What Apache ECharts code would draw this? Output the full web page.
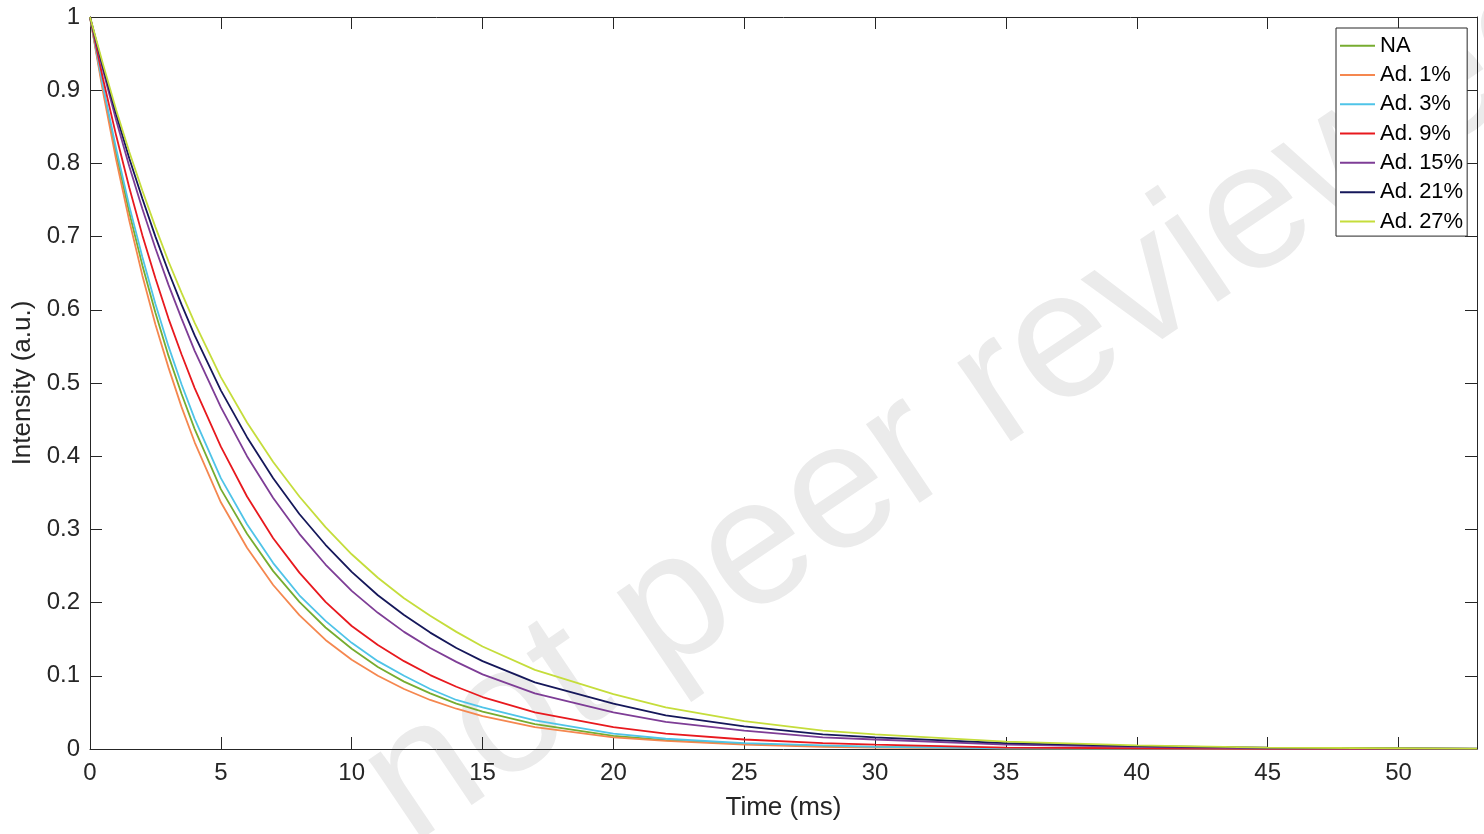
<!DOCTYPE html>
<html>
<head>
<meta charset="utf-8">
<script src="https://cdn.jsdelivr.net/npm/echarts@6/dist/echarts.min.js"></script>
<style>
html,body{margin:0;padding:0;background:#fff;}
#chart{width:1484px;height:834px;}
</style>
</head>
<body>
<div id="chart"></div>
<script>
// Time axis sample points (ms)
const timeMs = [0, 0.5, 1, 1.5, 2, 2.5, 3, 3.5, 4, 5, 6, 7, 8, 9, 10, 11, 12, 13, 14, 15, 17, 20, 22, 25, 28, 30, 35, 40, 45, 50, 53];

const seriesNames = ['NA', 'Ad. 1%', 'Ad. 3%', 'Ad. 9%', 'Ad. 15%', 'Ad. 21%', 'Ad. 27%'];

const valNA   = [1, 0.902, 0.813, 0.733, 0.661, 0.596, 0.537, 0.485, 0.437, 0.355, 0.294, 0.243, 0.201, 0.166, 0.137, 0.112, 0.092, 0.076, 0.062, 0.051, 0.034, 0.018, 0.012, 0.007, 0.004, 0.003, 0.001, 0.0005, 0.0002, 0.0001, 0.0001];
const valAd1  = [1, 0.897, 0.805, 0.722, 0.647, 0.580, 0.521, 0.467, 0.419, 0.337, 0.275, 0.224, 0.183, 0.149, 0.122, 0.100, 0.082, 0.067, 0.055, 0.045, 0.030, 0.016, 0.011, 0.006, 0.003, 0.002, 0.001, 0.0004, 0.0002, 0.0001, 0.0001];
const valAd3  = [1, 0.905, 0.820, 0.742, 0.672, 0.608, 0.550, 0.498, 0.451, 0.370, 0.307, 0.254, 0.210, 0.175, 0.145, 0.120, 0.100, 0.082, 0.067, 0.057, 0.039, 0.021, 0.014, 0.008, 0.005, 0.003, 0.001, 0.0005, 0.0002, 0.0001, 0.0001];
const valAd9  = [1, 0.915, 0.838, 0.767, 0.702, 0.643, 0.588, 0.539, 0.493, 0.413, 0.345, 0.288, 0.241, 0.201, 0.168, 0.142, 0.120, 0.101, 0.085, 0.071, 0.050, 0.030, 0.021, 0.013, 0.008, 0.006, 0.002, 0.001, 0.0003, 0.0001, 0.0001];
const valAd15 = [1, 0.927, 0.859, 0.796, 0.738, 0.684, 0.634, 0.588, 0.544, 0.467, 0.400, 0.343, 0.294, 0.252, 0.216, 0.186, 0.160, 0.138, 0.119, 0.102, 0.076, 0.050, 0.037, 0.025, 0.016, 0.013, 0.006, 0.003, 0.001, 0.0005, 0.0003];
const valAd21 = [1, 0.931, 0.867, 0.807, 0.752, 0.700, 0.652, 0.607, 0.565, 0.490, 0.426, 0.370, 0.321, 0.279, 0.242, 0.210, 0.183, 0.159, 0.138, 0.120, 0.091, 0.062, 0.046, 0.031, 0.020, 0.016, 0.008, 0.004, 0.002, 0.001, 0.0005];
const valAd27 = [1, 0.935, 0.873, 0.816, 0.763, 0.713, 0.666, 0.623, 0.582, 0.508, 0.446, 0.392, 0.345, 0.303, 0.266, 0.234, 0.206, 0.182, 0.160, 0.140, 0.108, 0.075, 0.057, 0.038, 0.025, 0.020, 0.010, 0.005, 0.002, 0.001, 0.0005];

const xTicks = [0, 5, 10, 15, 20, 25, 30, 35, 40, 45, 50];
const yTicks = [0, 0.1, 0.2, 0.3, 0.4, 0.5, 0.6, 0.7, 0.8, 0.9, 1];

const allValues = [valNA, valAd1, valAd3, valAd9, valAd15, valAd21, valAd27];
const colors = ['#77AC30', '#F5874F', '#4FC4E8', '#E8191E', '#7E3D96', '#15175A', '#C5DD3B'];

const FONT = "'Liberation Sans', Arial, Helvetica, sans-serif";
const AX = '#262626';

const chart = echarts.init(document.getElementById('chart'), null, {renderer: 'canvas'});

const series = seriesNames.map((name, i) => ({
  name: name,
  type: 'line',
  data: timeMs.map((t, j) => [t, allValues[i][j]]),
  showSymbol: false,
  symbol: 'none',
  smooth: false,
  lineStyle: {width: 1.8, color: colors[i]},
  itemStyle: {color: colors[i]},
  z: 3 + i,
  animation: false
}));

const commonX = {
  type: 'value', min: 0, max: 53, interval: 5,
  splitLine: {show: false},
  axisLine: {show: true, onZero: false, lineStyle: {color: AX, width: 1}},
  axisTick: {show: true, inside: true, length: 12, lineStyle: {color: AX}}
};
const commonY = {
  type: 'value', min: 0, max: 1, interval: 0.1,
  splitLine: {show: false},
  axisLine: {show: true, onZero: false, lineStyle: {color: AX, width: 1}},
  axisTick: {show: true, inside: true, length: 12, lineStyle: {color: AX}}
};

const option = {
  backgroundColor: '#fff',
  animation: false,
  color: colors,
  grid: {left: 90, right: 7, top: 17, bottom: 85, containLabel: false},
  graphic: [{
    type: 'text',
    x: 434, y: 879,
    rotation: 34 * Math.PI / 180,
    z: -10,
    silent: true,
    style: {
      text: 'not peer reviewed',
      fontSize: 180,
      fontFamily: FONT,
      fill: '#ebebeb',
      align: 'left',
      verticalAlign: 'bottom'
    }
  }],
  legend: {
    orient: 'vertical',
    left: 1336, top: 28,
    data: seriesNames,
    icon: 'rect',
    itemWidth: 35, itemHeight: 2,
    itemGap: 0,
    backgroundColor: '#fff',
    borderColor: AX, borderWidth: 1, borderRadius: 0,
    padding: [3, 4, 0, 4],
    textStyle: {fontSize: 22, fontFamily: FONT, color: '#000', lineHeight: 29.3},
    z: 20
  },
  xAxis: [
    Object.assign({}, commonX, {
      position: 'bottom',
      name: 'Time (ms)', nameLocation: 'middle', nameGap: 46,
      nameTextStyle: {fontSize: 26, fontFamily: FONT, color: AX},
      axisLabel: {show: true, fontSize: 24, fontFamily: FONT, color: AX, margin: 12, showMaxLabel: false,
        formatter: v => (xTicks.indexOf(v) >= 0 ? String(v) : '')}
    }),
    Object.assign({}, commonX, {position: 'top', axisLabel: {show: false}})
  ],
  yAxis: [
    Object.assign({}, commonY, {
      position: 'left',
      name: 'Intensity (a.u.)', nameLocation: 'middle', nameGap: 46, nameRotate: 90,
      nameTextStyle: {fontSize: 26, fontFamily: FONT, color: AX},
      axisLabel: {show: true, fontSize: 24, fontFamily: FONT, color: AX, margin: 10,
        formatter: v => {
          const r = Math.round(v * 10) / 10;
          const k = yTicks.indexOf(r);
          return k >= 0 ? String(yTicks[k]) : '';
        }}
    }),
    Object.assign({}, commonY, {position: 'right', axisLabel: {show: false}})
  ],
  series: series
};

chart.setOption(option);
</script>
</body>
</html>
